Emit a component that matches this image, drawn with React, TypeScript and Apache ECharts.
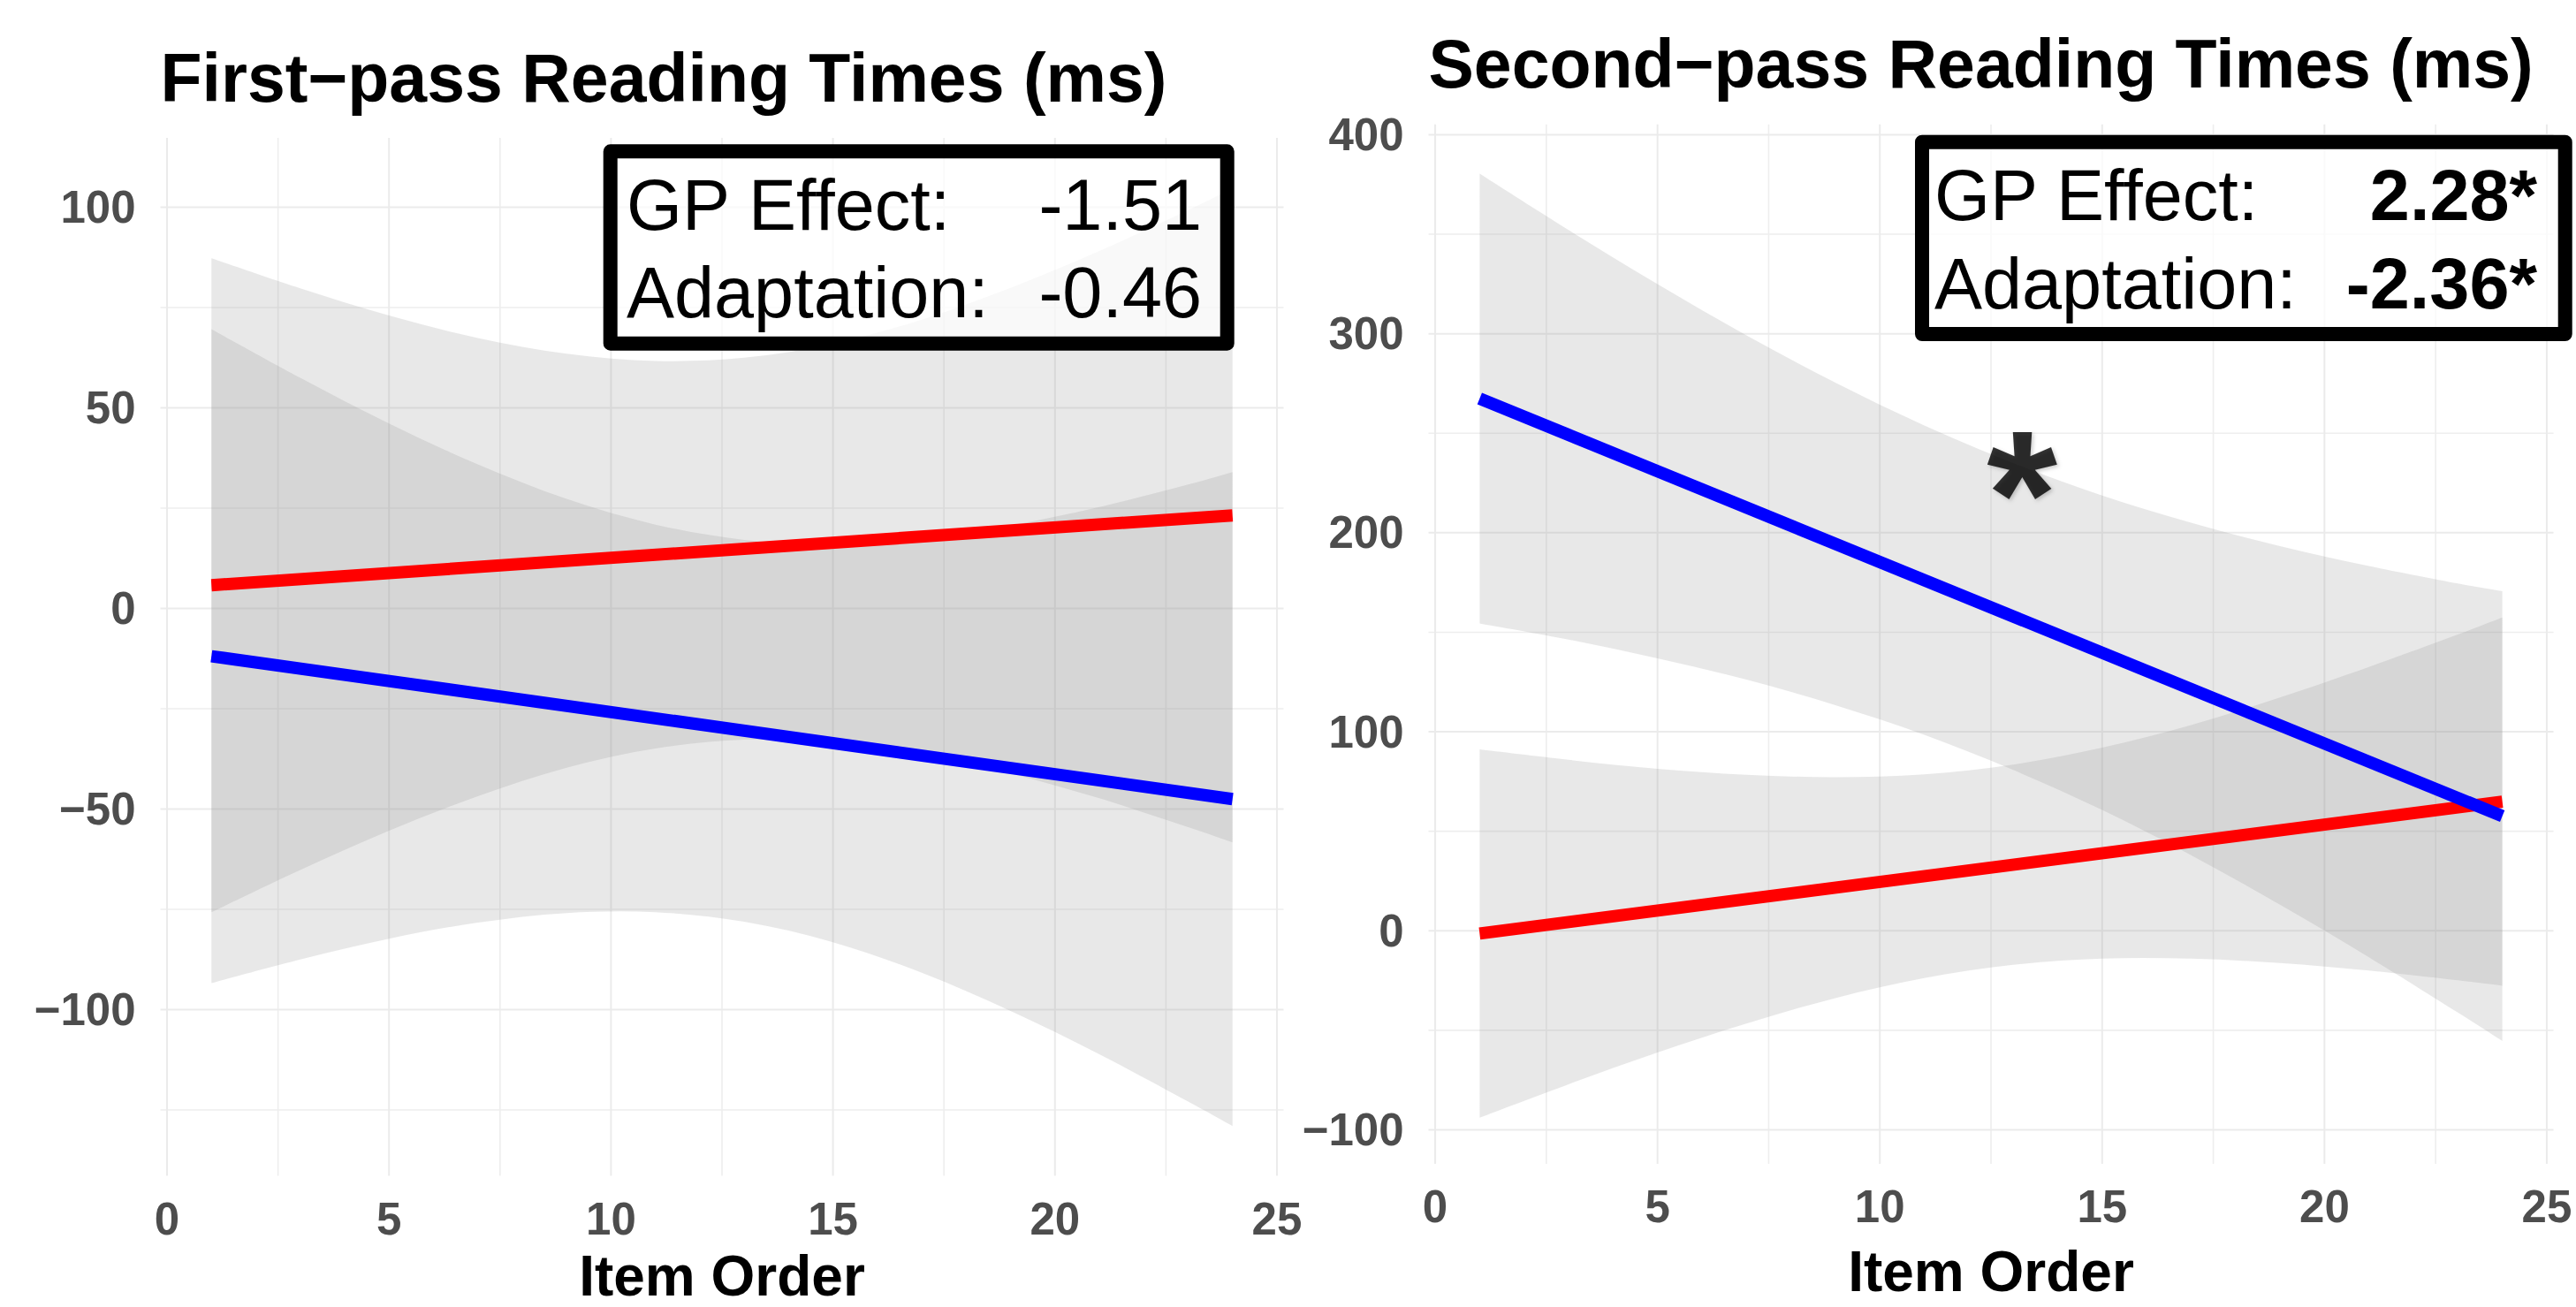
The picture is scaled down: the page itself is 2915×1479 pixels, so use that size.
import React, { useEffect, useRef } from "react";
import * as echarts from "echarts";

const FONT = "'Liberation Sans', Arial, Helvetica, sans-serif";

// Regression lines (x from 1 to 24)
const lineX = [1, 24];
const fpRed = [5.8, 23.2];
const fpBlue = [-11.9, -47.5];
const spRed = [-1.4, 64.9];
const spBlue = [267.4, 57.6];

// Confidence bands
const bandX = [1, 3, 5, 7, 9, 11, 13, 15, 17, 19, 21, 23, 24];
const fpRedUpper = [87.3, 79.8, 73.0, 67.4, 63.5, 61.7, 62.5, 66.0, 72.0, 79.9, 89.1, 99.3, 104.7];
const fpRedLower = [-75.7, -65.2, -55.4, -46.8, -39.7, -34.9, -32.7, -33.2, -36.2, -41.1, -47.3, -54.5, -58.3];
const fpBlueUpper = [69.6, 57.5, 46.1, 35.9, 27.3, 20.9, 17.1, 16.0, 17.4, 20.7, 25.3, 30.9, 34.0];
const fpBlueLower = [-93.4, -87.5, -82.3, -78.3, -75.9, -75.7, -78.1, -83.2, -90.8, -100.3, -111.1, -122.9, -129.0];
const spBlueUpper = [380.4, 352.1, 324.9, 299.2, 275.4, 253.9, 235.0, 218.7, 205.0, 193.3, 183.3, 174.5, 170.6];
const spBlueLower = [154.4, 146.3, 136.9, 126.2, 113.4, 98.5, 80.8, 60.7, 38.0, 13.1, -13.3, -41.1, -55.4];
const spRedUpper = [91.1, 85.9, 81.4, 78.4, 77.2, 78.6, 83.5, 92.0, 103.4, 117.2, 132.6, 148.9, 157.4];
const spRedLower = [-93.9, -77.1, -61.2, -46.6, -33.8, -23.8, -17.1, -14.0, -14.0, -16.2, -20.0, -24.9, -27.6];

// Ticks
const xMajor = [0, 5, 10, 15, 20, 25];
const xMinor = [2.5, 7.5, 12.5, 17.5, 22.5];
const fpYMajor = [-100, -50, 0, 50, 100];
const fpYMinor = [-125, -75, -25, 25, 75];
const spYMajor = [-100, 0, 100, 200, 300, 400];
const spYMinor = [-50, 50, 150, 250, 350];

// Texts
const titles = ["First\u2212pass Reading Times (ms)", "Second\u2212pass Reading Times (ms)"];
const xTitle = "Item Order";
const boxLabels = ["GP Effect:", "Adaptation:"];
const fpBoxValues = ["-1.51", "-0.46"];
const spBoxValues = ["2.28*", "-2.36*"];
const asteriskPoint = [13.2, 219.6];

const BAND_FILL = "rgba(150,150,150,0.22)";

const fmt = (v: number) => (v < 0 ? "\u2212" + Math.abs(v) : String(v));

function gridSeries(idx: number, yMajor: number[], yMinor: number[]) {
  const data: number[][] = [];
  xMinor.forEach((v) => data.push([0, v, 0]));
  yMinor.forEach((v) => data.push([1, v, 0]));
  xMajor.forEach((v) => data.push([0, v, 1]));
  yMajor.forEach((v) => data.push([1, v, 1]));
  return {
    type: "custom",
    xAxisIndex: idx,
    yAxisIndex: idx,
    silent: true,
    z: 0,
    data,
    renderItem: (params: any, api: any) => {
      const cs = params.coordSys;
      const orient = api.value(0);
      const v = api.value(1);
      const major = api.value(2);
      const style = { stroke: major ? "#EBEBEB" : "#EEEEEE", lineWidth: major ? 2 : 1.6 };
      if (orient === 0) {
        const p = api.coord([v, 0]);
        return { type: "line", shape: { x1: p[0], y1: cs.y, x2: p[0], y2: cs.y + cs.height }, style };
      }
      const p = api.coord([0, v]);
      return { type: "line", shape: { x1: cs.x, y1: p[1], x2: cs.x + cs.width, y2: p[1] }, style };
    },
  };
}

// Smooth (Catmull-Rom -> cubic Bezier) path segments through the projected points
function smoothSegments(pts: number[][]) {
  let d = "";
  const n = pts.length;
  for (let i = 0; i < n - 1; i++) {
    const p0 = pts[Math.max(i - 1, 0)];
    const p1 = pts[i];
    const p2 = pts[i + 1];
    const p3 = pts[Math.min(i + 2, n - 1)];
    const c1x = p1[0] + (p2[0] - p0[0]) / 6;
    const c1y = p1[1] + (p2[1] - p0[1]) / 6;
    const c2x = p2[0] - (p3[0] - p1[0]) / 6;
    const c2y = p2[1] - (p3[1] - p1[1]) / 6;
    d += ` C ${c1x} ${c1y} ${c2x} ${c2y} ${p2[0]} ${p2[1]}`;
  }
  return d;
}

function bandSeries(idx: number, lower: number[], upper: number[]) {
  return {
    type: "custom",
    xAxisIndex: idx,
    yAxisIndex: idx,
    silent: true,
    z: 1,
    data: bandX.map((x, i) => [x, lower[i], upper[i]]),
    encode: { x: 0, y: [1, 2] },
    renderItem: (params: any, api: any) => {
      if (params.dataIndex !== 0) return null;
      const up = bandX.map((x, i) => api.coord([x, upper[i]]));
      const lo = bandX.map((x, i) => api.coord([x, lower[i]])).reverse();
      const d =
        `M ${up[0][0]} ${up[0][1]}` +
        smoothSegments(up) +
        ` L ${lo[0][0]} ${lo[0][1]}` +
        smoothSegments(lo) +
        " Z";
      return { type: "path", shape: { pathData: d }, style: { fill: BAND_FILL } };
    },
  };
}

function lineSeries(idx: number, ys: number[], color: string, z: number) {
  return {
    type: "line",
    xAxisIndex: idx,
    yAxisIndex: idx,
    data: lineX.map((x, i) => [x, ys[i]]),
    showSymbol: false,
    symbol: "none",
    silent: true,
    z,
    lineStyle: { color, width: 14, cap: "butt" },
  };
}

function xAxis(idx: number, nameGap: number) {
  return {
    type: "value",
    gridIndex: idx,
    min: -0.15,
    max: 25.15,
    axisLine: { show: false },
    axisTick: { show: false },
    splitLine: { show: false },
    axisLabel: {
      customValues: xMajor,
      formatter: fmt,
      margin: 23,
      fontSize: 51,
      fontWeight: "bold",
      color: "#4D4D4D",
      fontFamily: FONT,
    },
    name: xTitle,
    nameLocation: "middle",
    nameGap,
    nameTextStyle: { fontSize: 64, lineHeight: 44, fontWeight: "bold", color: "#000", fontFamily: FONT },
  };
}

function yAxis(idx: number, min: number, max: number, major: number[]) {
  return {
    type: "value",
    gridIndex: idx,
    min,
    max,
    axisLine: { show: false },
    axisTick: { show: false },
    splitLine: { show: false },
    axisLabel: {
      customValues: major,
      formatter: fmt,
      margin: 28,
      fontSize: 51,
      fontWeight: "bold",
      color: "#4D4D4D",
      fontFamily: FONT,
    },
  };
}

function boxGraphics(
  rect: { x: number; y: number; w: number; h: number },
  labelX: number,
  valueX: number,
  baselines: number[],
  values: string[],
  valueBold: boolean
) {
  const els: any[] = [
    {
      type: "rect",
      z: 50,
      shape: { x: rect.x, y: rect.y, width: rect.w, height: rect.h, r: 0 },
      style: { fill: "rgba(255,255,255,0.72)", stroke: "#000", lineWidth: 16, lineJoin: "round" },
    },
  ];
  baselines.forEach((b, i) => {
    const yMid = b - 0.3465 * 81;
    els.push({
      type: "text",
      z: 51,
      x: labelX,
      y: yMid,
      style: { text: boxLabels[i], font: `81px ${FONT}`, fill: "#000", align: "left", verticalAlign: "middle" },
    });
    els.push({
      type: "text",
      z: 51,
      x: valueX,
      y: yMid,
      style: {
        text: values[i],
        font: `${valueBold ? "bold " : ""}81px ${FONT}`,
        fill: "#000",
        align: "right",
        verticalAlign: "middle",
      },
    });
  });
  return els;
}

export default function App() {
  const ref = useRef<HTMLDivElement>(null);
  useEffect(() => {
    document.body.style.margin = "0";
    if (!ref.current) return;
    const chart = echarts.init(ref.current, undefined, { renderer: "svg" });
    const option: any = {
      animation: false,
      backgroundColor: "#FFFFFF",
      grid: [
        { left: 181.5, top: 156, width: 1271, height: 1174.5, outerBoundsMode: "none", containLabel: false },
        { left: 1616.5, top: 140.7, width: 1273, height: 1176.3, outerBoundsMode: "none", containLabel: false },
      ],
      xAxis: [xAxis(0, 91), xAxis(1, 100)],
      yAxis: [yAxis(0, -141.4, 117.3, fpYMajor), yAxis(1, -117.1, 405.2, spYMajor)],
      series: [
        gridSeries(0, fpYMajor, fpYMinor),
        gridSeries(1, spYMajor, spYMinor),
        bandSeries(0, fpRedLower, fpRedUpper),
        bandSeries(0, fpBlueLower, fpBlueUpper),
        bandSeries(1, spBlueLower, spBlueUpper),
        bandSeries(1, spRedLower, spRedUpper),
        lineSeries(0, fpRed, "#FF0000", 3),
        lineSeries(0, fpBlue, "#0000FF", 4),
        lineSeries(1, spRed, "#FF0000", 3),
        lineSeries(1, spBlue, "#0000FF", 4),
        {
          type: "scatter",
          xAxisIndex: 1,
          yAxisIndex: 1,
          silent: true,
          z: 5,
          symbol: "circle",
          symbolSize: 1,
          itemStyle: { color: "rgba(0,0,0,0)" },
          data: [asteriskPoint],
          label: {
            show: true,
            position: "inside",
            formatter: "*",
            fontSize: 205,
            fontWeight: "bold",
            color: "#000000",
            textBorderWidth: 0,
            textBorderColor: "transparent",
            textShadowColor: "rgba(0,0,0,0.25)",
            textShadowBlur: 4,
            textShadowOffsetX: 2,
            textShadowOffsetY: 2,
            fontFamily: FONT,
          },
        },
      ],
      graphic: [
        {
          type: "text",
          z: 50,
          x: 181.5,
          y: 114.7 - 0.3465 * 77,
          style: { text: titles[0], font: `bold 77px ${FONT}`, fill: "#000", align: "left", verticalAlign: "middle" },
        },
        {
          type: "text",
          z: 50,
          x: 1616.5,
          y: 99 - 0.3465 * 77,
          style: { text: titles[1], font: `bold 77px ${FONT}`, fill: "#000", align: "left", verticalAlign: "middle" },
        },
        ...boxGraphics({ x: 690.7, y: 171.3, w: 698, h: 217.4 }, 709, 1360, [260.5, 358.6], fpBoxValues, false),
        ...boxGraphics({ x: 2175, y: 160.7, w: 727.7, h: 217.3 }, 2189, 2871, [249, 349], spBoxValues, true),
      ],
    };
    chart.setOption(option);
    return () => chart.dispose();
  }, []);
  return <div ref={ref} style={{ width: 2915, height: 1479 }} />;
}
